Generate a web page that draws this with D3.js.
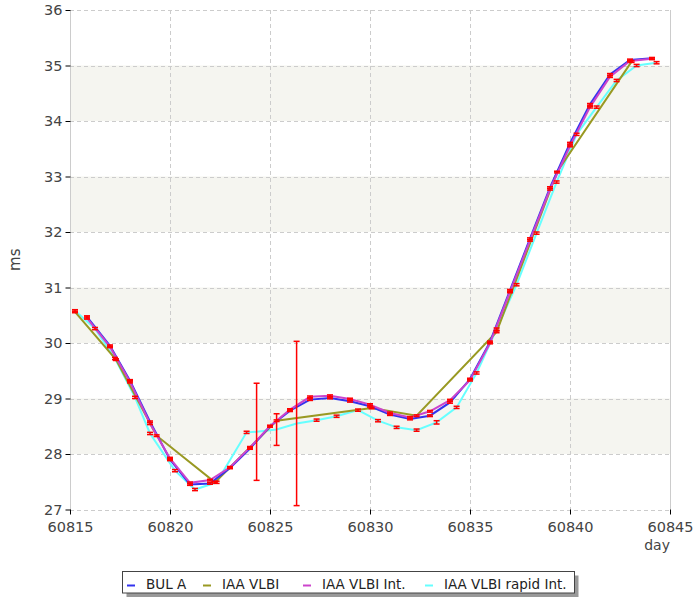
<!DOCTYPE html>
<html>
<head>
<meta charset="utf-8">
<script src="https://cdn.jsdelivr.net/npm/d3@7"></script>
<style>
  html, body { margin: 0; padding: 0; background: #fff; }
  svg { display: block; font-family: "DejaVu Sans", Verdana, sans-serif; }
</style>
</head>
<body>
<svg id="chart" width="700" height="600"></svg>
<script>
// ---- data ----
const seriesNames = ["BUL A", "IAA VLBI", "IAA VLBI Int.", "IAA VLBI rapid Int."];
const seriesColors = ["#3333ee", "#999922", "#cc44cc", "#66ffff"];

const bulDays = [60815.85, 60817, 60818, 60819, 60820, 60821, 60822, 60823, 60824, 60825, 60826, 60827, 60828, 60829, 60830, 60831, 60832, 60833, 60834, 60835, 60836, 60837, 60838, 60839, 60840, 60841, 60842, 60843, 60844.1];
const bulValues = [30.47, 29.95, 29.32, 28.58, 27.90, 27.45, 27.47, 27.75, 28.10, 28.50, 28.78, 28.98, 29.01, 28.95, 28.86, 28.71, 28.63, 28.69, 28.93, 29.35, 30.02, 30.95, 31.88, 32.80, 33.60, 34.30, 34.84, 35.10, 35.13];
const bulErrors = [0.02, 0.015, 0.02, 0.015, 0.02, 0.015, 0.015, 0.015, 0.015, 0.015, 0.015, 0.015, 0.015, 0.015, 0.015, 0.015, 0.015, 0.015, 0.015, 0.015, 0.015, 0.015, 0.015, 0.015, 0.015, 0.015, 0.015, 0.015, 0.015];

const vlbiDays = [60815.25, 60817.3, 60819.33, 60822.25, 60825.33, 60830.08, 60832.33, 60836.33, 60839.35, 60843.08];
const vlbiValues = [30.56, 29.70, 28.33, 27.49, 28.60, 28.83, 28.69, 30.20, 33.08, 35.07];
const vlbiErrors = [0.015, 0.015, 0.015, 0.015, 0.015, 0.015, 0.015, 0.015, 0.015, 0.015];

const intDays = [60815.85, 60817, 60818, 60819, 60820, 60821, 60822, 60823, 60824, 60825, 60826, 60827, 60828, 60829, 60830, 60831, 60832, 60833, 60834, 60835, 60836, 60837, 60838, 60839, 60840, 60841, 60842, 60843, 60844.1];
const intValues = [30.45, 29.93, 29.30, 28.55, 27.92, 27.48, 27.53, 27.76, 28.12, 28.50, 28.80, 29.03, 29.05, 28.99, 28.89, 28.74, 28.66, 28.77, 28.97, 29.33, 30.00, 30.92, 31.85, 32.77, 33.55, 34.25, 34.80, 35.08, 35.12];
const intErrors = [0.02, 0.015, 0.02, 0.02, 0.02, 0.015, 0.015, 0.015, 0.015, 0.015, 0.015, 0.015, 0.015, 0.015, 0.015, 0.015, 0.015, 0.015, 0.015, 0.015, 0.015, 0.015, 0.015, 0.015, 0.015, 0.015, 0.015, 0.015, 0.015];

const rapidDays = [60815.25, 60816.25, 60817.25, 60818.25, 60819.0, 60820.25, 60821.25, 60822.33, 60823.83, 60824.33, 60825.33, 60826.33, 60827.33, 60828.33, 60829.4, 60830.4, 60831.33, 60832.33, 60833.33, 60834.33, 60835.33, 60836.33, 60837.33, 60838.33, 60839.33, 60840.33, 60841.33, 60842.33, 60843.33, 60844.33];
const rapidValues = [30.58, 30.26, 29.72, 29.02, 28.37, 27.70, 27.36, 27.49, 28.39, 28.40, 28.44, 28.55, 28.61, 28.68, 28.79, 28.60, 28.48, 28.43, 28.57, 28.84, 29.46, 30.25, 31.05, 31.98, 32.90, 33.76, 34.25, 34.73, 35.00, 35.05];
const rapidErrors = [0.02, 0.02, 0.02, 0.02, 0.02, 0.02, 0.02, 0.02, 0.02, 0.875, 0.285, 1.48, 0.02, 0.02, 0.02, 0.02, 0.02, 0.02, 0.03, 0.02, 0.02, 0.02, 0.02, 0.02, 0.02, 0.02, 0.02, 0.02, 0.02, 0.02];

const xTicks = [60815, 60820, 60825, 60830, 60835, 60840, 60845];
const yTicks = [27, 28, 29, 30, 31, 32, 33, 34, 35, 36];
const xLabel = "day";
const yLabel = "ms";

// ---- build ----
function zip(days, values, errors) {
  return days.map((d, i) => ({ d: d, v: values[i], e: errors[i] }));
}
const series = [
  { name: seriesNames[0], color: seriesColors[0], pts: zip(bulDays, bulValues, bulErrors) },
  { name: seriesNames[1], color: seriesColors[1], pts: zip(vlbiDays, vlbiValues, vlbiErrors) },
  { name: seriesNames[2], color: seriesColors[2], pts: zip(intDays, intValues, intErrors) },
  { name: seriesNames[3], color: seriesColors[3], pts: zip(rapidDays, rapidValues, rapidErrors) }
];
const drawOrder = [3, 1, 0, 2];

const svg = d3.select("#chart");
const pL = 70, pR = 670, pT = 10, pB = 509.5;
const x = d3.scaleLinear().domain([60815, 60845]).range([pL, pR]);
const y = d3.scaleLinear().domain([27, 36]).range([pB, pT]);

// alternating bands
const bandStarts = [28, 30, 32, 34];
svg.append("g").selectAll("rect").data(bandStarts).join("rect")
  .attr("x", pL).attr("width", pR - pL)
  .attr("y", d => y(d + 1)).attr("height", d => y(d) - y(d + 1))
  .attr("fill", "#f5f5f0");

// grid
const grid = svg.append("g").attr("stroke", "#cccccc").attr("stroke-dasharray", "4,3").attr("shape-rendering", "crispEdges");
grid.selectAll("line.h").data(yTicks).join("line").attr("class", "h")
  .attr("x1", pL).attr("x2", pR)
  .attr("y1", d => Math.round(y(d)) + 0.5).attr("y2", d => Math.round(y(d)) + 0.5);
grid.selectAll("line.v").data(xTicks.slice(1, -1)).join("line").attr("class", "v")
  .attr("y1", pT).attr("y2", pB)
  .attr("x1", d => Math.round(x(d)) + 0.5).attr("x2", d => Math.round(x(d)) + 0.5);

// frame lines
svg.append("line").attr("x1", pL + 0.5).attr("x2", pL + 0.5).attr("y1", pT).attr("y2", pB)
  .attr("stroke", "#cccccc");
svg.append("line").attr("x1", pR + 0.5).attr("x2", pR + 0.5).attr("y1", pT).attr("y2", pB)
  .attr("stroke", "#cccccc");

// axes
const yAxis = d3.axisLeft(y).tickValues(yTicks).tickSize(5).tickPadding(3).tickFormat(d3.format("d"));
const gy = svg.append("g").attr("transform", `translate(${pL + 0.5},0)`).call(yAxis);
gy.select(".domain").remove();
gy.selectAll(".tick line").attr("stroke", "#000");
gy.selectAll(".tick text").attr("fill", "#444").attr("font-size", 14.5).attr("font-family", "DejaVu Sans");

const xAxis = d3.axisBottom(x).tickValues(xTicks).tickSize(5).tickPadding(7).tickFormat(d3.format("d"));
const gx = svg.append("g").attr("transform", `translate(0,${pB})`).call(xAxis);
gx.select(".domain").remove();
gx.selectAll(".tick line").attr("stroke", "#000");
gx.selectAll(".tick text").attr("fill", "#444").attr("font-size", 14.5).attr("font-family", "DejaVu Sans");

svg.append("text").attr("x", pR).attr("y", 550).attr("text-anchor", "end")
  .attr("fill", "#444").attr("font-size", 14).text(xLabel);
svg.append("text").attr("transform", `translate(20,${(pT + pB) / 2}) rotate(-90)`)
  .attr("text-anchor", "middle").attr("fill", "#444").attr("font-size", 15).text(yLabel);

// lines
const line = d3.line().x(p => x(p.d)).y(p => y(p.v));
const plot = svg.append("g");
drawOrder.forEach(i => {
  const s = series[i];
  plot.append("path").datum(s.pts).attr("d", line)
    .attr("fill", "none").attr("stroke", s.color).attr("stroke-width", 2);
});

// error bars
const eb = svg.append("g").attr("stroke", "#ff0000").attr("stroke-width", 1.5);
drawOrder.forEach(i => {
  const s = series[i];
  s.pts.forEach(p => {
    const cx = x(p.d);
    const y1 = y(p.v + p.e), y2 = y(p.v - p.e);
    eb.append("line").attr("x1", cx).attr("x2", cx).attr("y1", y1).attr("y2", y2);
    eb.append("line").attr("x1", cx - 3).attr("x2", cx + 3).attr("y1", y1).attr("y2", y1);
    eb.append("line").attr("x1", cx - 3).attr("x2", cx + 3).attr("y1", y2).attr("y2", y2);
  });
});

// legend
const lg = svg.append("g");
lg.append("rect").attr("x", 126.5).attr("y", 575.5).attr("width", 452).attr("height", 21.5).attr("fill", "#999");
lg.append("rect").attr("x", 122.5).attr("y", 571.5).attr("width", 452).attr("height", 21.5)
  .attr("fill", "#fff").attr("stroke", "#444");
const legendX = [127, 203, 303, 425];
series.forEach((s, i) => {
  lg.append("line").attr("x1", legendX[i]).attr("x2", legendX[i] + 8).attr("y1", 585.5).attr("y2", 585.5)
    .attr("stroke", s.color).attr("stroke-width", 2);
  lg.append("text").attr("x", legendX[i] + 19).attr("y", 589).attr("font-size", 13.5).attr("fill", "#222").text(s.name);
});
</script>
</body>
</html>
